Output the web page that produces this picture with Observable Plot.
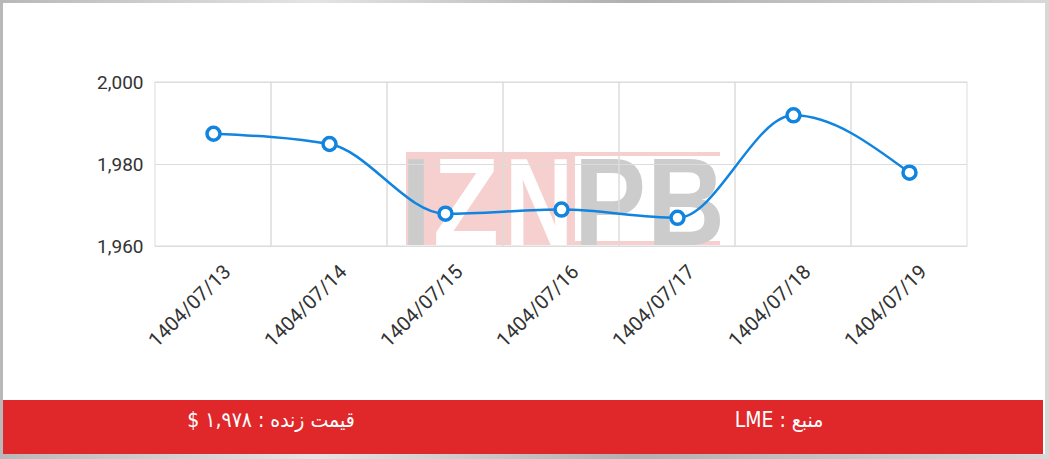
<!DOCTYPE html>
<html>
<head>
<meta charset="utf-8">
<script src="https://cdn.jsdelivr.net/npm/d3@7"></script>
<script src="https://cdn.jsdelivr.net/npm/@observablehq/plot@0.6"></script>
<style>
  html, body { margin: 0; padding: 0; background: #fff; }
  #page { position: relative; width: 1049px; height: 459px; background: linear-gradient(90deg, #b8b8b8, #e4e4e4 30%, #b0b0b0 60%, #d8d8d8); overflow: hidden; font-family: Roboto, sans-serif; }
  #inner { position: absolute; left: 3px; top: 3px; width: 1042px; height: 451px; background: #fff; }
  #wm { position: absolute; left: 0; top: 0; }
  #chart { position: absolute; left: 0; top: 0; }
  #band { position: absolute; left: 3px; top: 400px; width: 1040px; height: 54px; background: #e0282b; color: #fff; font-family: "DejaVu Sans Condensed", "Noto Sans", sans-serif; font-size: 21px; }
  #band div { position: absolute; top: 8px; direction: rtl; transform: translateX(-50%); white-space: nowrap; }
</style>
</head>
<body>
<div id="page">
  <div id="inner"></div>
  <svg id="wm" width="1049" height="400" xmlns="http://www.w3.org/2000/svg">
    <rect x="406" y="152" width="169" height="93" fill="#f6cfcf"></rect>
    <rect x="406" y="152" width="314" height="4" fill="#f6cfcf"></rect>
    <rect x="406" y="241" width="314" height="4" fill="#f6cfcf"></rect>
    <g id="wmLetters"></g>
  </svg>
  <div id="chart"></div>
  <div id="band">
    <div id="liveLabel" style="left:268px;"></div>
    <div id="srcLabel" style="left:776px;"></div>
  </div>
</div>
<script>
const dates = ["1404/07/13","1404/07/14","1404/07/15","1404/07/16","1404/07/17","1404/07/18","1404/07/19"];
const prices = [1987.5, 1985, 1968, 1969, 1967, 1992, 1978];
const yTicks = [1960, 1980, 2000];
const yDomain = [1960, 2000];
const liveText = "قیمت زنده : ۱,۹۷۸ $";
const sourceText = "منبع : LME";

// watermark logo letters (decoration only)
const wmLetters = ["I", "Z", "N", "P", "B"];
const wmX = [401, 433, 505, 574, 647];
const wmScale = [0.87, 0.87, 0.76, 0.87, 0.87];
const wmFill = ["#cccccc", "#ffffff", "#ffffff", "#cccccc", "#cccccc"];
const wmG = document.getElementById("wmLetters");
wmLetters.forEach((l, i) => {
  const t = document.createElementNS("http://www.w3.org/2000/svg", "text");
  t.setAttribute("transform", `translate(${wmX[i]},245) scale(${wmScale[i]},1)`);
  t.setAttribute("font-family", "Liberation Sans, Arial, sans-serif");
  t.setAttribute("font-weight", "bold");
  t.setAttribute("font-size", "124");
  t.setAttribute("fill", wmFill[i]);
  t.textContent = l;
  wmG.appendChild(t);
});

const data = dates.map((d, i) => ({date: d, price: prices[i]}));
const lineColor = "#1184df";
const gridColor = "#dcdcdc";

const chart = Plot.plot({
  width: 1049,
  height: 400,
  marginLeft: 155,
  marginRight: 82,
  marginTop: 82,
  marginBottom: 154,
  style: {fontFamily: "Roboto, sans-serif", fontSize: "19px", color: "#333", background: "transparent"},
  x: {type: "band", domain: dates, padding: 0, label: null},
  y: {domain: yDomain, ticks: yTicks, tickFormat: d3.format(","), label: null},
  marks: [
    Plot.gridY(yTicks, {stroke: gridColor, strokeOpacity: 1}),
    Plot.barY(dates, {x: d => d, y1: yDomain[0], y2: yDomain[1], fill: "none", stroke: gridColor, strokeWidth: 1}),
    Plot.axisY({ticks: yTicks, tickFormat: d3.format(","), tickSize: 0, tickPadding: 12, label: null, fontSize: 19}),
    Plot.axisX({tickSize: 0, tickRotate: -45, tickPadding: 22, dx: 14, label: null, fontSize: 20}),
    Plot.line(data, {x: "date", y: "price", stroke: lineColor, strokeWidth: 2.5, curve: "monotone-x"}),
    Plot.dot(data, {x: "date", y: "price", r: 6.5, fill: "#fff", stroke: lineColor, strokeWidth: 3.5})
  ]
});
document.getElementById("chart").appendChild(chart);
document.getElementById("liveLabel").textContent = liveText;
document.getElementById("srcLabel").textContent = sourceText;
</script>
</body>
</html>
